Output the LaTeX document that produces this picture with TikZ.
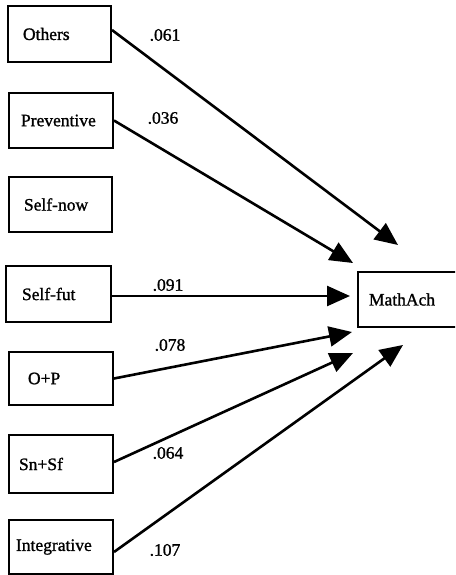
\documentclass[tikz,border=0pt]{standalone}
\usepackage{fontspec}
\setmainfont{Liberation Serif}
\newfontfamily\scanfont{Liberation Serif}[FakeBold=1.2]
\usetikzlibrary{arrows.meta}
\tikzset{
  box/.style={draw, line width=2pt, anchor=west, align=left, font=\scanfont\fontsize{17.5}{20}\selectfont, inner ysep=0pt},
  path/.style={line width=2.6pt, -{Triangle[length=23pt,width=20pt]}},
  coef/.style={font=\scanfont\fontsize{17.5}{20}\selectfont, inner sep=0pt}
}
\begin{document}
\begin{tikzpicture}[x=1pt,y=-1pt]
\useasboundingbox (0,0) rectangle (455,575);
\clip (0,0) rectangle (455,575);
\node[box, minimum height=56pt, inner xsep=15pt, text width=73pt] (oth) at (7,34) {Others};
\node[box, minimum height=55pt, inner xsep=12pt, text width=80pt] (prev) at (8,120.5) {Preventive};
\node[box, minimum height=55pt, inner xsep=15pt, text width=73pt] (sn) at (8,204.5) {Self-now};
\node[box, minimum height=56pt, inner xsep=16pt, text width=73pt] (sf) at (5,294) {Self-fut};
\node[box, minimum height=53pt, inner xsep=19pt, text width=66pt] (op) at (8,378.5) {O+P};
\node[box, minimum height=58pt, inner xsep=10pt, text width=84pt] (snsf) at (8,464) {Sn+Sf};
\node[box, minimum height=54pt, inner xsep=7pt, text width=90pt] (integ) at (8,547) {Integrative};
\node[box, minimum height=55pt, inner xsep=11pt, text width=83pt] (math) at (357,299.5) {MathAch};
\coordinate (t1) at (398,245);
\coordinate (t2) at (353,263);
\coordinate (t3) at (350,296);
\coordinate (t4) at (352,332);
\coordinate (t5) at (353,353);
\coordinate (t6) at (403,345);
\draw[path] ([yshift=4pt]oth.east) -- (t1);
\draw[path] (prev.east) -- (t2);
\draw[path] ([yshift=-2pt]sf.east) -- (t3);
\draw[path] (op.east) -- (t4);
\draw[path] ([yshift=2pt]snsf.east) -- (t5);
\draw[path] ([yshift=-5pt]integ.east) -- (t6);
\node[coef] (c1) at (165,35) {.061};
\node[coef] (c2) at (163,118) {.036};
\node[coef] (c3) at (168,285) {.091};
\node[coef] (c4) at (170,345) {.078};
\node[coef] (c5) at (168,453) {.064};
\node[coef] (c6) at (165,550) {.107};
\end{tikzpicture}
\end{document}
